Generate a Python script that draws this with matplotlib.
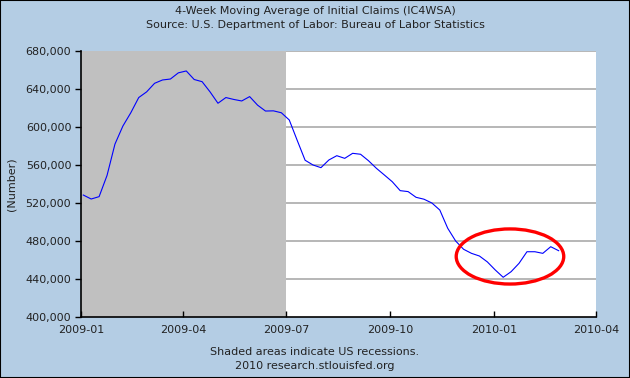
import matplotlib
matplotlib.use('Agg')
import matplotlib.pyplot as plt
import matplotlib.dates as mdates
from matplotlib.patches import Ellipse, Rectangle
from matplotlib.ticker import FuncFormatter
import pandas as pd

# weekly 4-week moving average of initial claims, week ending Saturday
start_week = '2009-01-03'
claims = [528400, 524200, 526700, 549000, 582000, 601000, 615000, 631000,
          637000, 646000, 649500, 650500, 657000, 659000, 650000, 647700,
          637000, 625000, 631000, 629000, 627400, 632000, 623000, 616800,
          617000, 615000, 607400, 586000, 565000, 560000, 557200, 565300,
          569800, 567000, 572300, 571300, 564500, 556500, 549500, 542400,
          533000, 532000, 526000, 524000, 520000, 512600, 493400, 480000,
          471300, 467000, 464200, 458000, 449500, 441800, 447700, 456500,
          468700, 468700, 467000, 474000, 469800]
weeks = pd.date_range(start_week, periods=len(claims), freq='7D')

recession = ('2009-01-01', '2009-07-01')
xticks = ['2009-01', '2009-04', '2009-07', '2009-10', '2010-01', '2010-04']
yticks = [400000, 440000, 480000, 520000, 560000, 600000, 640000, 680000]

title = '4-Week Moving Average of Initial Claims (IC4WSA)\nSource: U.S. Department of Labor: Bureau of Labor Statistics'
footer = 'Shaded areas indicate US recessions.\n2010 research.stlouisfed.org'

bg = '#b4cde4'
plt.rcParams['font.family'] = 'DejaVu Sans'

fig = plt.figure(figsize=(6.3, 3.78), dpi=100, facecolor=bg)
ax = fig.add_axes([81 / 630, 1 - 317 / 378, 515 / 630, 266 / 378])
ax.set_facecolor('white')

x0 = pd.Timestamp('2009-01-01')
x1 = pd.Timestamp('2010-04-01')
ax.set_xlim(x0, x1)
ax.set_ylim(400000, 680000)

ax.axvspan(pd.Timestamp(recession[0]), pd.Timestamp(recession[1]),
           color='#c0c0c0', zorder=1, lw=0)
for v in yticks[1:]:
    ax.axhline(v, color='#aaaaaa', lw=1.2, zorder=0.5)

ax.plot(weeks, claims, color='blue', lw=0.8, zorder=3)

# red circle around the recent dip
ell = Ellipse((mdates.date2num(pd.Timestamp('2010-01-15')), 463700),
              width=95, height=58000, fill=False, edgecolor='red',
              lw=2.4, zorder=4)
ax.add_patch(ell)

ax.set_xticks([pd.Timestamp(t) for t in xticks])
ax.set_xticklabels(xticks)
ax.set_yticks(yticks)
ax.yaxis.set_major_formatter(FuncFormatter(lambda v, p: '{:,.0f}'.format(v)))
ax.tick_params(axis='x', direction='in', length=4, width=1, labelsize=8,
               colors='black', labelcolor='#222222', pad=6)
ax.tick_params(axis='y', direction='out', length=4, width=1, labelsize=8,
               labelcolor='#222222', pad=3)
for s in ['top', 'right']:
    ax.spines[s].set_visible(False)
for s in ['left', 'bottom']:
    ax.spines[s].set_color('black')
    ax.spines[s].set_linewidth(1.2)
    ax.spines[s].set_zorder(5)

ax.set_ylabel('(Number)', fontsize=8, color='#222222')
ax.yaxis.set_label_coords(-64 / 515, 0.5)

fig.text(0.5, 1 - 18 / 378, title, ha='center', va='center', fontsize=8,
         color='#222222', linespacing=1.45)
fig.text(0.5, 1 - 359 / 378, footer, ha='center', va='center', fontsize=8,
         color='#222222', linespacing=1.45)

fig.patches.append(Rectangle((0, 0), 1, 1, transform=fig.transFigure,
                             fill=False, edgecolor='black', lw=1.5))

fig.savefig('out.png', dpi=100, facecolor=bg)
